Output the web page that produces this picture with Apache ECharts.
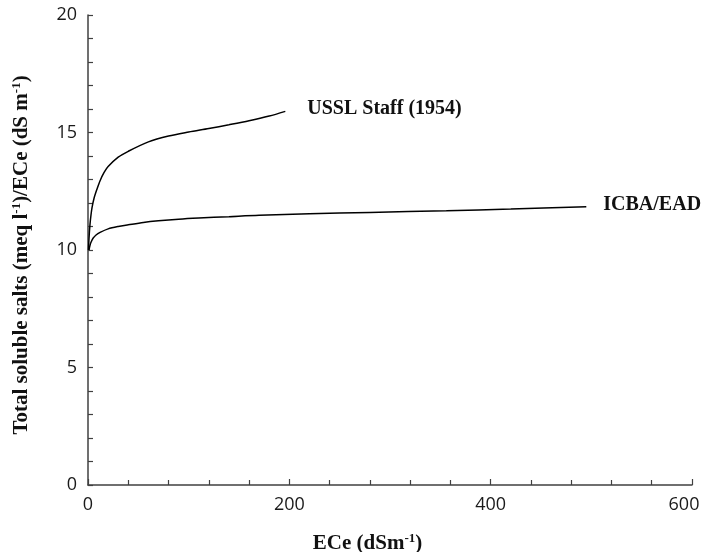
<!DOCTYPE html>
<html><head><meta charset="utf-8">
<script src="https://cdn.jsdelivr.net/npm/echarts@6/dist/echarts.min.js"></script>
<style>html,body{margin:0;padding:0;background:#fff}#c{width:703px;height:552px}</style>
</head><body><div id="c"></div>
<script>
// USSL Staff (1954) curve: [ECe, ratio]
const usslX = [0.5, 1, 2, 3, 4, 6, 9, 12, 16, 20, 30, 40, 60, 80, 100, 120, 140, 160, 180, 196];
const usslY = [10.0, 10.5, 11.1, 11.5, 11.8, 12.2, 12.6, 12.95, 13.3, 13.55, 13.95, 14.2, 14.6, 14.85, 15.02, 15.17, 15.33, 15.5, 15.7, 15.9];
// ICBA/EAD curve
const icbaX = [1, 2, 3, 5, 8, 12, 20, 30, 40, 55, 70, 90, 110, 140, 170, 220, 280, 356, 420, 495];
const icbaY = [10.0, 10.2, 10.33, 10.5, 10.64, 10.75, 10.9, 11.0, 11.07, 11.17, 11.24, 11.31, 11.36, 11.42, 11.48, 11.54, 11.6, 11.67, 11.74, 11.84];
const xTicks = [0, 200, 400, 600];
const yTicks = [0, 5, 10, 15, 20];
const seriesNames = ['USSL Staff (1954)', 'ICBA/EAD'];

const zip = (xs, ys) => xs.map((x, i) => [x, ys[i]]);
const chart = echarts.init(document.getElementById('c'), null, {renderer: 'canvas'});
const axisCol = '#404040';
const tickFont = {fontFamily: 'Open Sans', fontSize: 18, color: '#1a1a1a'};
const serif = 'Liberation Serif';
const sup = {fontFamily: serif, fontWeight: 'bold', fontSize: 13, color: '#111', verticalAlign: 'top', lineHeight: 12};
const base = {fontFamily: serif, fontWeight: 'bold', fontSize: 21, color: '#111', lineHeight: 24};
const xMax = xTicks[xTicks.length - 1];
chart.setOption({
  animation: false,
  grid: {left: 88, right: 11, top: 15, bottom: 67, containLabel: false, outerBoundsMode: 'none'},
  xAxis: {
    type: 'value', min: xTicks[0], max: xMax, interval: 200,
    axisLine: {lineStyle: {color: axisCol, width: 1.5}},
    axisTick: {inside: true, length: 6, lineStyle: {color: axisCol, width: 1.2}},
    minorTick: {show: true, splitNumber: 5, length: 5, lineStyle: {color: axisCol, width: 1.2}},
    splitLine: {show: false},
    axisLabel: Object.assign({
      margin: 11,
      formatter: v => v === xMax ? '{m|' + v + '}' : String(v),
      rich: {m: Object.assign({padding: [0, 16, 0, 0]}, tickFont)}
    }, tickFont),
    name: '{b|ECe (dSm}{s|-1}{b|)}',
    nameLocation: 'middle', nameGap: 47,
    nameTextStyle: {padding: [0, 45, 0, 0], rich: {b: base, s: sup}}
  },
  yAxis: {
    type: 'value', min: yTicks[0], max: yTicks[yTicks.length - 1], interval: 5,
    axisLine: {show: true, lineStyle: {color: axisCol, width: 1.5}},
    axisTick: {show: true, inside: true, length: 5, lineStyle: {color: axisCol, width: 1.2}},
    minorTick: {show: true, splitNumber: 5, length: 5, lineStyle: {color: axisCol, width: 1.2}},
    splitLine: {show: false},
    axisLabel: Object.assign({margin: 11}, tickFont),
    name: '{b|Total soluble salts (meq l}{s|-1}{b|)/ECe (dS m}{s|-1}{b|)}',
    nameLocation: 'middle', nameGap: 54,
    nameTextStyle: {padding: [0, 10, 0, 0], rich: {b: base, s: sup}}
  },
  series: [
    {
      name: seriesNames[0], type: 'line', data: zip(usslX, usslY), symbol: 'none', smooth: 0.3,
      lineStyle: {color: '#000', width: 1.5},
      endLabel: {show: true, formatter: seriesNames[0], distance: 22, fontFamily: serif, fontWeight: 'bold', fontSize: 20, color: '#111', offset: [0, -3]}
    },
    {
      name: seriesNames[1], type: 'line', data: zip(icbaX, icbaY), symbol: 'none', smooth: 0.3,
      lineStyle: {color: '#000', width: 1.5},
      endLabel: {show: true, formatter: seriesNames[1], distance: 17, fontFamily: serif, fontWeight: 'bold', fontSize: 20, color: '#111', offset: [0, -2]}
    }
  ]
});
</script></body></html>
